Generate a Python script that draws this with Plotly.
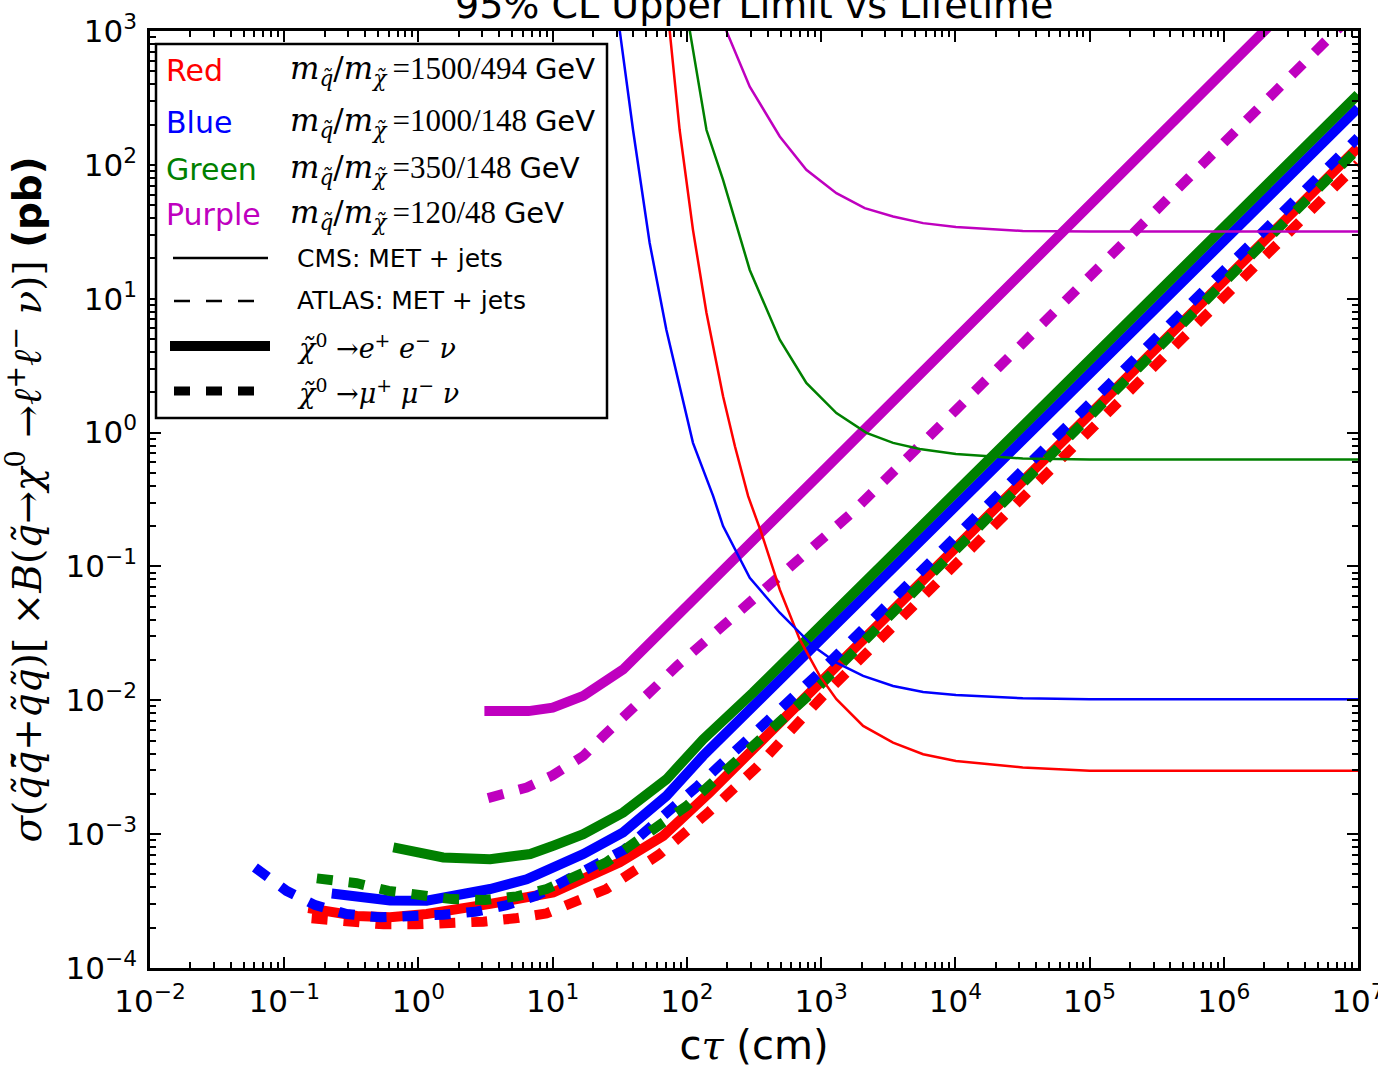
import plotly.graph_objects as go

# ---------------- data (ctau in cm, sigma upper limit in pb) ----------------
# chi0 -> e+ e- nu  (thick solid)
ctau_red_ee = [0.151, 0.347, 0.614, 1.15, 3.42, 10.1, 31.6, 66.5, 148, 311, 1e3, 1e4, 1e5, 1e6, 1e7]
sig_red_ee = [2.8e-4, 2.45e-4, 2.39e-4, 2.53e-4, 3.01e-4, 3.67e-4, 6.15e-4, 9.7e-4, 2.05e-3, 4.3e-3,
              0.0138, 0.138, 1.38, 13.6, 135]

ctau_blue_ee = [0.226, 0.614, 1.15, 3.42, 6.4, 10.1, 16.9, 33.5, 70.5, 132, 300, 1e3, 1e4, 1e5, 1e6, 1e7]
sig_blue_ee = [3.6e-4, 3.2e-4, 3.18e-4, 3.89e-4, 4.6e-4, 5.6e-4, 7.1e-4, 1.03e-3, 1.93e-3, 3.85e-3,
               8.65e-3, 0.0288, 0.282, 2.75, 27, 266]

ctau_green_ee = [0.65, 1.53, 3.42, 6.8, 10.1, 16.9, 33.5, 70.5, 132, 311, 1e3, 1e4, 1e5, 1e6, 1e7]
sig_green_ee = [7.96e-4, 6.7e-4, 6.5e-4, 7.1e-4, 8.2e-4, 1.0e-3, 1.45e-3, 2.57e-3, 5.1e-3, 0.0114,
                0.0363, 0.355, 3.47, 34, 335]

ctau_purple_ee = [3.1, 6.6, 10, 16.9, 33.5, 100, 1e3, 1e4, 1e5, 1e6, 1e7]
sig_purple_ee = [0.0083, 0.0083, 0.0088, 0.0108, 0.017, 0.05, 0.50, 5.0, 50, 500, 5000]

# chi0 -> mu+ mu- nu  (thick dashed)
ctau_red_mm = [0.16, 0.318, 0.548, 0.97, 1.72, 3.05, 5.25, 9.0, 25.1, 62.8, 144, 330, 1e3, 1e4, 1e5, 1e6, 1e7]
sig_red_mm = [2.35e-4, 2.17e-4, 2.12e-4, 2.12e-4, 2.15e-4, 2.22e-4, 2.35e-4, 2.56e-4, 3.89e-4, 7.1e-4,
              1.45e-3, 3.15e-3, 0.0104, 0.105, 1.05, 10.5, 102]

ctau_blue_mm = [0.0605, 0.104, 0.17, 0.292, 0.518, 0.89, 1.53, 2.64, 4.55, 7.6, 10.1, 16.9, 34.4, 121,
                618, 1e3, 1e4, 1e5, 1e6, 1e7]
sig_blue_mm = [5.63e-4, 3.77e-4, 2.95e-4, 2.53e-4, 2.39e-4, 2.43e-4, 2.5e-4, 2.63e-4, 2.95e-4, 3.47e-4,
               4.0e-4, 5.3e-4, 7.7e-4, 2.3e-3, 0.0102, 0.0166, 0.166, 1.66, 16.4, 160]

ctau_green_mm = [0.175, 0.347, 0.6, 1.03, 1.77, 3.13, 5.4, 9.0, 25.1, 99.3, 521, 1e3, 1e4, 1e5, 1e6, 1e7]
sig_green_mm = [4.67e-4, 4.3e-4, 3.77e-4, 3.47e-4, 3.27e-4, 3.22e-4, 3.43e-4, 3.89e-4, 6.15e-4, 1.62e-3,
                7.2e-3, 0.0132, 0.132, 1.32, 13.2, 132]

ctau_purple_mm = [3.3, 6.4, 10, 16.9, 23.8, 37.5, 56, 84, 200, 650, 1640, 1e4, 1e5, 1e6, 1e7]
sig_purple_mm = [1.86e-3, 2.23e-3, 2.75e-3, 3.84e-3, 5.4e-3, 8.1e-3, 0.0121, 0.018, 0.038, 0.108, 0.244,
                 1.46, 14.6, 146, 1460]

# CMS: MET + jets (thin solid)
ctau_red_cms = [67.6, 74.5, 88.3, 111, 140, 186, 228, 286, 359, 492, 693, 977, 1300, 2056, 3436, 5754,
                1.01e4, 3.18e4, 1e5, 1e6, 1e7]
sig_red_cms = [2630, 1000, 182, 32.7, 7.82, 1.87, 0.791, 0.335, 0.178, 0.0673, 0.0285, 0.0152, 0.0102,
               0.00643, 0.00483, 0.00395, 0.00352, 0.00315, 0.00297, 0.00297, 0.00297]

ctau_blue_cms = [28.2, 31.6, 39.7, 52.8, 70.3, 111, 157, 186, 294, 492, 871, 1300, 2056, 3436, 5754,
                 1.01e4, 3.18e4, 1e5, 1e6, 1e7]
sig_blue_cms = [2360, 1000, 182, 26.1, 5.87, 0.838, 0.335, 0.2, 0.0822, 0.0451, 0.0254, 0.0191, 0.0152,
                0.0128, 0.01153, 0.01096, 0.01035, 0.01016, 0.01016, 0.01016]

ctau_green_cms = [93.3, 105, 140, 186, 294, 492, 776, 1300, 2178, 3436, 5433, 1.01e4, 3.18e4, 1e5, 1e6, 1e7]
sig_green_cms = [2040, 1000, 182, 77.3, 16.4, 4.94, 2.35, 1.40, 0.995, 0.838, 0.755, 0.692, 0.64, 0.63,
                 0.63, 0.63]

ctau_purple_cms = [158, 197, 294, 492, 776, 1300, 2113, 3436, 5754, 1.01e4, 3.18e4, 1e5, 1e6, 1e7]
sig_purple_cms = [1660, 1000, 384, 163, 91.8, 61.5, 47.5, 41.1, 36.7, 34.3, 32.1, 31.8, 31.8, 31.8]

# tick labels
x_exponents = [-2, -1, 0, 1, 2, 3, 4, 5, 6, 7]
y_exponents = [-4, -3, -2, -1, 0, 1, 2, 3]

# legend texts
mass_names = ["Red", "Blue", "Green", "Purple"]
mass_points = ["1500/494", "1000/148", "350/148", "120/48"]

# ---------------- style ----------------
RED, BLUE, GREEN, PURPLE = "#FF0000", "#0000FF", "#008000", "#BF00BF"
name_colors = [RED, BLUE, GREEN, PURPLE]
THICK, THIN = 10, 2.5
DASH = "16px,16px"
SANS = "DejaVu Sans"
SERIF = "Liberation Serif"
DSERIF = "DejaVu Serif"

fig = go.Figure()

def add(x, y, color, width, dash, name):
    fig.add_trace(go.Scatter(x=x, y=y, mode="lines", name=name, showlegend=False,
                             line=dict(color=color, width=width, dash=dash)))

add(ctau_red_ee, sig_red_ee, RED, THICK, "solid", "Red e+e- nu")
add(ctau_blue_ee, sig_blue_ee, BLUE, THICK, "solid", "Blue e+e- nu")
add(ctau_green_ee, sig_green_ee, GREEN, THICK, "solid", "Green e+e- nu")
add(ctau_purple_ee, sig_purple_ee, PURPLE, THICK, "solid", "Purple e+e- nu")
add(ctau_red_mm, sig_red_mm, RED, THICK, DASH, "Red mu+mu- nu")
add(ctau_blue_mm, sig_blue_mm, BLUE, THICK, DASH, "Blue mu+mu- nu")
add(ctau_green_mm, sig_green_mm, GREEN, THICK, DASH, "Green mu+mu- nu")
add(ctau_purple_mm, sig_purple_mm, PURPLE, THICK, DASH, "Purple mu+mu- nu")
add(ctau_red_cms, sig_red_cms, RED, THIN, "solid", "Red CMS")
add(ctau_blue_cms, sig_blue_cms, BLUE, THIN, "solid", "Blue CMS")
add(ctau_green_cms, sig_green_cms, GREEN, THIN, "solid", "Green CMS")
add(ctau_purple_cms, sig_purple_cms, PURPLE, THIN, "solid", "Purple CMS")


def pow_label(e):
    return "10<sup>" + ("\u2212" + str(-e) if e < 0 else str(e)) + "</sup>"


def minor_vals(lo, hi):
    return [m * 10.0 ** e for e in range(lo, hi) for m in range(2, 10)]


axis_common = dict(
    type="log", showgrid=False, zeroline=False, showline=True, linewidth=2.5, linecolor="black",
    mirror="allticks", ticks="inside", ticklen=11, tickwidth=1.5, tickcolor="black",
    tickfont=dict(family=SANS, size=31, color="black"), ticklabeloverflow="allow",
    automargin=False,
)

fig.update_layout(
    width=1378, height=1069,
    margin=dict(l=150, r=20, t=31, b=101, autoexpand=False),
    paper_bgcolor="white", plot_bgcolor="white",
    xaxis=dict(
        **axis_common,
        range=[-2, 7],
        tickmode="array",
        tickvals=[10.0 ** e for e in x_exponents],
        ticktext=[pow_label(e) for e in x_exponents],
        minor=dict(tickmode="array", tickvals=minor_vals(-2, 7), ticks="inside", ticklen=6,
                   tickwidth=1.5, tickcolor="black", showgrid=False),
        ticklabelstandoff=4,
        title=dict(text="c<span style='font-family:DejaVu Serif'><i>\u03c4</i></span> (cm)",
                   font=dict(family=SANS, size=40, color="black"), standoff=14),
    ),
    yaxis=dict(
        **axis_common,
        range=[-4, 3],
        tickmode="array",
        tickvals=[10.0 ** e for e in y_exponents],
        ticktext=[pow_label(e) for e in y_exponents],
        minor=dict(tickmode="array", tickvals=minor_vals(-4, 3), ticks="inside", ticklen=6,
                   tickwidth=1.5, tickcolor="black", showgrid=False),
        ticklabelstandoff=4,
        title=dict(
            text=("<i>\u03c3</i>(<i>q\u0303q\u0303\u0304</i>+<i>q\u0303q\u0303</i>)"
                  "[ \u00d7<i>B</i>(<i>q\u0303</i>\u2192<i>\u03c7</i><sup>0</sup> \u2192"
                  "<i>\u2113</i><sup>+</sup><i>\u2113</i><sup>\u2212</sup> <i>\u03bd</i>)] "
                  "<span style='font-family:DejaVu Sans'><b>(pb)</b></span>"),
            font=dict(family=DSERIF, size=39, color="black"), standoff=12),
    ),
)

# title (partly cut off at the top, as in the reference)
fig.add_annotation(text="95% CL Upper Limit vs Lifetime", xref="paper", yref="paper", x=0.5, y=1,
                   xanchor="center", yanchor="bottom", yshift=2, showarrow=False,
                   font=dict(family=SANS, size=38, color="black"))


# ---------------- legend (drawn as a box) ----------------
def fx(px):
    return (px - 150) / 1208.0


def fy(py):
    return (968 - py) / 937.0


fig.add_shape(type="rect", xref="paper", yref="paper", x0=fx(156), x1=fx(607), y0=fy(418), y1=fy(44),
              line=dict(color="black", width=2.5), fillcolor="white", layer="above")

row_y = [71, 122, 170, 215]
for name, col, mp, ry in zip(mass_names, name_colors, mass_points, row_y):
    fig.add_annotation(text=name, xref="paper", yref="paper", x=fx(164), y=fy(ry), xanchor="left",
                       yanchor="middle", showarrow=False, font=dict(family=SANS, size=30, color=col))
    fig.add_annotation(
        text=("<span style='font-family:DejaVu Serif'><i>m</i><sub><i>q\u0303</i></sub>/"
              "<i>m</i><sub><i>\u03c7\u0303</i></sub></span>\u2009=" + mp +
              " <span style='font-family:DejaVu Sans;font-size:29px'>GeV</span>"),
        xref="paper", yref="paper", x=fx(288), y=fy(ry), xanchor="left", yanchor="middle",
        showarrow=False, font=dict(family=SERIF, size=31, color="black"))

style_rows = [
    (258, THIN, "solid", 173, 268, "CMS: MET + jets", SANS, 25),
    (301, THIN, DASH, 174, 257, "ATLAS: MET + jets", SANS, 25),
    (346, 10, "solid", 170, 270,
     "<i>\u03c7\u0303</i><sup>0</sup> \u2192<i>e</i><sup>+</sup> <i>e</i><sup>\u2212</sup> <i>\u03bd</i>",
     DSERIF, 27),
    (391, 9, DASH, 174, 257,
     "<i>\u03c7\u0303</i><sup>0</sup> \u2192<i>\u03bc</i><sup>+</sup> <i>\u03bc</i><sup>\u2212</sup> <i>\u03bd</i>",
     DSERIF, 27),
]
for ry, w, d, x0, x1, label, fam, fs in style_rows:
    fig.add_shape(type="line", xref="paper", yref="paper", x0=fx(x0), x1=fx(x1), y0=fy(ry), y1=fy(ry),
                  line=dict(color="black", width=w, dash=d), layer="above")
    fig.add_annotation(text=label, xref="paper", yref="paper", x=fx(295), y=fy(ry), xanchor="left",
                       yanchor="middle", showarrow=False, font=dict(family=fam, size=fs, color="black"))

fig.write_html("out.html", config={"displayModeBar": False},
               post_script="document.body.style.margin='0px';")
